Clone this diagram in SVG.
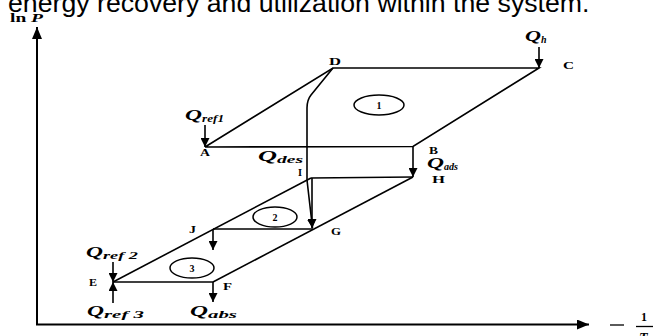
<svg xmlns="http://www.w3.org/2000/svg" width="662" height="336" viewBox="0 0 662 336">
<defs>
<style>
.ln{fill:none;stroke:#000;stroke-width:1.6}
.ax{fill:none;stroke:#000;stroke-width:2}
.ar{fill:none;stroke:#000;stroke-width:1.6;marker-end:url(#ah)}
.pt{font-family:"Liberation Serif",serif;font-weight:bold;font-size:10px;fill:#000}
.q{font-family:"Liberation Serif",serif;font-weight:bold;font-style:italic;font-size:14px;fill:#000}
.sub{font-size:10px}
.cl{fill:none;stroke:#000;stroke-width:1.5}
.cn{font-family:"Liberation Serif",serif;font-weight:bold;font-size:10px;fill:#000;text-anchor:middle}
</style>
<marker id="ah" viewBox="0 0 10 10" refX="10" refY="5" markerWidth="9" markerHeight="9" markerUnits="userSpaceOnUse" orient="auto">
<path d="M0,0 L10,5 L0,10 Z" fill="#000"/>
</marker>
<marker id="axh" viewBox="0 0 10 10" refX="10" refY="5" markerWidth="12" markerHeight="10" markerUnits="userSpaceOnUse" orient="auto" preserveAspectRatio="none">
<path d="M0,0 L10,5 L0,10 Z" fill="#000"/>
</marker>
</defs>
<rect width="662" height="336" fill="#fff"/>
<text x="8" y="12" font-family="Liberation Sans, Arial, sans-serif" font-size="26.7" fill="#000">energy recovery and utilization within the system.</text>

<g id="axes">
<line class="ax" x1="37" y1="324" x2="37" y2="27" marker-end="url(#axh)"/>
<line class="ax" x1="36" y1="324.5" x2="589" y2="324.5" marker-end="url(#axh)"/>
<text x="10" y="22" font-family="Liberation Serif,serif" font-weight="bold" font-size="13" textLength="33" lengthAdjust="spacingAndGlyphs">ln <tspan font-style="italic">P</tspan></text>
<line x1="610" y1="325" x2="624" y2="325" stroke="#000" stroke-width="1.3"/>
<text x="641" y="321" font-family="Liberation Serif,serif" font-weight="bold" font-size="12">1</text>
<line x1="636" y1="326.5" x2="653" y2="326.5" stroke="#000" stroke-width="1.3"/>
<text x="639" y="343" font-family="Liberation Serif,serif" font-weight="bold" font-style="italic" font-size="14">T</text>
</g>

<g id="connectors">
<path class="ln" d="M205,147 L333,68 L539,68 L413,146.5 L205,147"/>
<path class="ln" d="M311,178 L413,177"/>
<path class="ln" d="M413,177 L213,282"/>
<path class="ln" d="M311,178 L113,282"/>
<path class="ln" d="M213,229 L313,229"/>
<path class="ln" d="M113,282 L213,282"/>
<path class="ar" d="M333,68 L311,95 Q307,100 307,108 L307,180 L312.5,228"/>
<path class="ar" d="M312,178 L312,228"/>
<path class="ar" d="M413,146.5 L413,177"/>
<path class="ar" d="M539,47 L539,68"/>
<path class="ar" d="M205,125 L205,147"/>
<path class="ar" d="M213,229 L213,250"/>
<path class="ar" d="M213,282 L213,302"/>
<path class="ar" d="M113,262 L113,282"/>
<path class="ar" d="M113,303 L113,282"/>
</g>

<g id="node-D"><text class="pt" x="329" y="65" textLength="12" lengthAdjust="spacingAndGlyphs">D</text></g>
<g id="node-C"><text class="pt" x="563" y="69" textLength="11" lengthAdjust="spacingAndGlyphs">C</text></g>
<g id="node-A"><text class="pt" x="200" y="156" textLength="10" lengthAdjust="spacingAndGlyphs">A</text></g>
<g id="node-B"><text class="pt" x="429" y="154" textLength="9" lengthAdjust="spacingAndGlyphs">B</text></g>
<g id="node-H"><text class="pt" x="432" y="183" textLength="13" lengthAdjust="spacingAndGlyphs">H</text></g>
<g id="node-I"><text class="pt" x="298" y="176" textLength="4" lengthAdjust="spacingAndGlyphs">I</text></g>
<g id="node-J"><text class="pt" x="189" y="233" textLength="7" lengthAdjust="spacingAndGlyphs">J</text></g>
<g id="node-G"><text class="pt" x="331" y="235" textLength="10" lengthAdjust="spacingAndGlyphs">G</text></g>
<g id="node-E"><text class="pt" x="89" y="286" textLength="8" lengthAdjust="spacingAndGlyphs">E</text></g>
<g id="node-F"><text class="pt" x="223" y="290" textLength="9" lengthAdjust="spacingAndGlyphs">F</text></g>

<g id="label-Qh"><text class="q" x="525" y="41"><tspan textLength="16" lengthAdjust="spacingAndGlyphs">Q</tspan><tspan class="sub" dy="2" font-size="8">h</tspan></text></g>
<g id="label-Qref1"><text class="q" x="185" y="120"><tspan textLength="17" lengthAdjust="spacingAndGlyphs">Q</tspan><tspan class="sub" dy="2" textLength="22" lengthAdjust="spacingAndGlyphs">ref1</tspan></text></g>
<g id="label-Qdes"><text class="q" x="258" y="161"><tspan textLength="19" lengthAdjust="spacingAndGlyphs">Q</tspan><tspan class="sub" dy="2" textLength="26" lengthAdjust="spacingAndGlyphs">des</tspan></text></g>
<g id="label-Qads"><text class="q" x="427" y="168"><tspan textLength="17" lengthAdjust="spacingAndGlyphs">Q</tspan><tspan class="sub" dy="2" textLength="14" lengthAdjust="spacingAndGlyphs">ads</tspan></text></g>
<g id="label-Qref2"><text class="q" x="86" y="257"><tspan textLength="17" lengthAdjust="spacingAndGlyphs">Q</tspan><tspan class="sub" dy="2" textLength="35" lengthAdjust="spacingAndGlyphs">ref 2</tspan></text></g>
<g id="label-Qref3"><text class="q" x="87" y="316"><tspan textLength="17" lengthAdjust="spacingAndGlyphs">Q</tspan><tspan class="sub" dy="2" textLength="40" lengthAdjust="spacingAndGlyphs">ref 3</tspan></text></g>
<g id="label-Qabs"><text class="q" x="190" y="316"><tspan textLength="18" lengthAdjust="spacingAndGlyphs">Q</tspan><tspan class="sub" dy="2" textLength="29" lengthAdjust="spacingAndGlyphs">abs</tspan></text></g>

<g id="cycle-1"><ellipse class="cl" cx="379" cy="105" rx="25" ry="10"/><text class="cn" x="379" y="109">1</text></g>
<g id="cycle-2"><ellipse class="cl" cx="275" cy="217" rx="22" ry="10"/><text class="cn" x="275" y="221">2</text></g>
<g id="cycle-3"><ellipse class="cl" cx="192" cy="268" rx="22" ry="10"/><text class="cn" x="192" y="272">3</text></g>
</svg>
